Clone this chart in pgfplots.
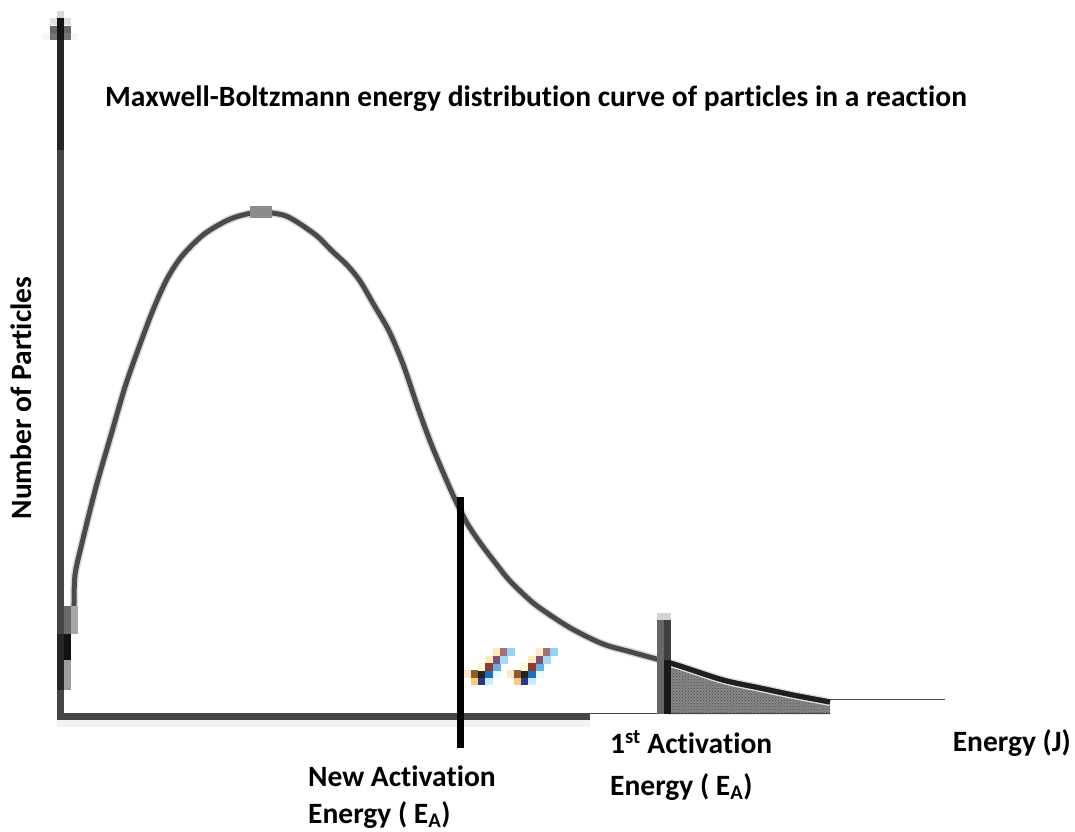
\documentclass[border=0pt]{standalone}
\usepackage{fontspec}
\setmainfont[Ligatures=NoCommon]{Carlito}
\usepackage{pgfplots}
\usetikzlibrary{patterns}
\pgfplotsset{compat=1.18}
\definecolor{curve}{HTML}{4A4A4A}
\definecolor{halo}{HTML}{DADADA}
\definecolor{axisg}{HTML}{464646}
\definecolor{peakg}{HTML}{8C8C8C}
\definecolor{ia}{HTML}{FFE9C4}
\definecolor{ib}{HTML}{FFC77A}
\definecolor{ic}{HTML}{27378A}
\definecolor{id}{HTML}{C5EEFB}
\definecolor{ie}{HTML}{8F5A2C}
\definecolor{if}{HTML}{222222}
\definecolor{ig}{HTML}{1F6FB8}
\definecolor{ih}{HTML}{EAFBFF}
\definecolor{ii}{HTML}{FFF8D5}
\definecolor{ij}{HTML}{8C3B30}
\definecolor{ik}{HTML}{62B2E8}
\definecolor{il}{HTML}{7F5370}
\definecolor{im}{HTML}{A5DAF5}
\definecolor{in}{HTML}{A46F78}
\definecolor{io}{HTML}{8FD3F7}
\tikzset{lab/.style={font=\fontsize{29.5}{34}\selectfont\bfseries, text=black, inner sep=0pt}}
\pgfplotsset{px/.style={only marks, mark=square*, mark size=3.6pt, color=#1, mark options={draw=none, fill=#1}}}
\newcommand{\curvedata}{(74,606)(75,575)(82,543)(96,487)(111,435)(125,387)(139,347)(153,310)(167,279)(182,256)(203,235)(224,222)(239,216)(260,212)(283,215)(297,222)(317,236)(332,251)(347,265)(360,281)(374,305)(389,331)(403,364)(418,408)(432,446)(453,495)(467,523)(481,544)(497,565)(510,581)(532,602)(553,617)(574,630)(603,644)(631,652)(660,660)(680,666)(723,680)(760,688)(793,695)(830,702)}
\begin{document}
\begin{tikzpicture}
\begin{axis}[
  name=ax,
  scale only axis, width=1075pt, height=831pt,
  xmin=0, xmax=1075, ymin=0, ymax=831, y dir=reverse,
  axis lines=none, clip=false,
]
% shaded area
\addplot[fill=black!47, draw=none] coordinates {(668,662)(680,666)(723,680)(760,688)(793,695)(830,702)(830,714)(668,714)} -- cycle;
\addplot[draw=none, pattern=crosshatch dots, pattern color=black!70] coordinates {(668,662)(680,666)(723,680)(760,688)(793,695)(830,702)(830,714)(668,714)} -- cycle;
% curve
\addplot[halo, line width=8pt, smooth] coordinates {\curvedata};
\addplot[curve, line width=5pt, smooth] coordinates {\curvedata};
\addplot[black!88, line width=5pt, smooth] coordinates {(660,660)(680,666)(723,680)(760,688)(793,695)(830,702)};
\addplot[black!70, line width=1pt] coordinates {(830,699)(945,699)};
\addplot[peakg, line width=12pt] coordinates {(250,211.5)(272,211.5)};
% axes
\addplot[black!5, line width=7pt] coordinates {(57,723.5)(590,723.5)};
\addplot[black!85, line width=7pt] coordinates {(60.5,40)(60.5,150)};
\addplot[axisg, line width=7pt] coordinates {(60.5,150)(60.5,720)};
\addplot[black!85, line width=7pt] coordinates {(60.5,634)(60.5,690)};
\addplot[axisg, line width=7pt] coordinates {(57,716.5)(590,716.5)};
\addplot[axisg, line width=1.2pt] coordinates {(590,713.5)(830,713.5)};
% foot of the curve
\addplot[black!58, line width=7pt] coordinates {(67.5,606)(67.5,634)};
\addplot[black!35, line width=7pt] coordinates {(74.5,606)(74.5,634)};
\addplot[black!93, line width=7pt] coordinates {(67.5,634)(67.5,660)};
\addplot[black!38, line width=7pt] coordinates {(67.5,660)(67.5,690)};
% arrow head
\addplot[black!15, line width=7pt] coordinates {(60.5,11)(60.5,18)};
\addplot[black!12, line width=7pt] coordinates {(50,21.5)(71,21.5)};
\addplot[black!60, line width=7pt] coordinates {(50,29)(71,29)};
\addplot[black!55, line width=7pt] coordinates {(50,36)(71,36)};
\addplot[black!4, line width=7pt] coordinates {(43,36)(50,36)};
\addplot[black!4, line width=7pt] coordinates {(71,36)(78,36)};
\addplot[black!92, line width=7pt] coordinates {(60.5,18)(60.5,40)};
% activation lines
\addplot[black, line width=7pt] coordinates {(460.5,497)(460.5,748)};
\addplot[black!17, line width=7pt] coordinates {(657,616.5)(671,616.5)};
\addplot[black!60, line width=7pt] coordinates {(660.5,620)(660.5,714)};
\addplot[black!75, line width=7pt] coordinates {(667.5,620)(667.5,660)};
\addplot[black!90, line width=7pt] coordinates {(667.5,660)(667.5,714)};
% squiggle marks (pixel blocks)
\addplot[px=ia] coordinates {(467.5,673.5)(489,659.5)(496.5,652)(510.5,673.5)(532,659.5)(539.5,652)};
\addplot[px=ib] coordinates {(474.5,680.5)(517.5,680.5)};
\addplot[px=ic] coordinates {(481.5,680.5)(524.5,680.5)};
\addplot[px=id] coordinates {(489,680.5)(532,680.5)};
\addplot[px=ie] coordinates {(474.5,673.5)(517.5,673.5)};
\addplot[px=if] coordinates {(481.5,673.5)(524.5,673.5)};
\addplot[px=ig] coordinates {(489,673.5)(532,673.5)};
\addplot[px=ih] coordinates {(496.5,673.5)(539.5,673.5)};
\addplot[px=ii] coordinates {(481.5,666.5)(524.5,666.5)};
\addplot[px=ij] coordinates {(489,666.5)(532,666.5)};
\addplot[px=ik] coordinates {(496.5,666.5)(539.5,666.5)};
\addplot[px=il] coordinates {(496.5,659.5)(539.5,659.5)};
\addplot[px=im] coordinates {(503.5,659.5)(546.5,659.5)};
\addplot[px=in] coordinates {(503.5,652)(546.5,652)};
\addplot[px=io] coordinates {(510.5,652)(553.5,652)};
% text
\node[lab, anchor=base west] at (axis cs:105,106) {Maxwell-Boltzmann energy distribution curve of particles in a reaction};
\node[lab, anchor=base, rotate=90] at (axis cs:31,398) {Number of Particles};
\node[lab, anchor=base west] at (axis cs:308,786) {New Activation};
\node[lab, anchor=base west] at (axis cs:308,823) {Energy ( E\textsubscript{A})};
\node[lab, anchor=base west] at (axis cs:610,753) {1\textsuperscript{st} Activation};
\node[lab, anchor=base west] at (axis cs:610,795) {Energy ( E\textsubscript{A})};
\node[lab, anchor=base east] at (axis cs:1071,751) {Energy (J)};
\end{axis}
\path (ax.south west) rectangle (ax.north east);
\end{tikzpicture}
\end{document}
